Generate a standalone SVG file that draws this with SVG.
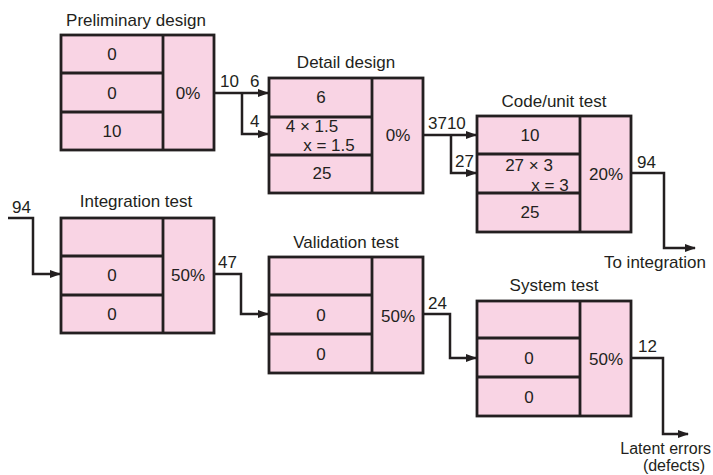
<svg xmlns="http://www.w3.org/2000/svg" width="713" height="475" viewBox="0 0 713 475">
<style>
text{font-family:"Liberation Sans",Arial,sans-serif;font-size:17px;fill:#231f20}
.m{text-anchor:middle}
.e{text-anchor:end}
.s{font-size:16px}
.box{fill:#f9d4e4;stroke:#231f20;stroke-width:2.8}
.ln{fill:none;stroke:#231f20;stroke-width:2.8}
.c{fill:none;stroke:#231f20;stroke-width:2.5;stroke-linejoin:miter}
</style>
<defs>
<marker id="ah" markerUnits="userSpaceOnUse" markerWidth="11" markerHeight="8" refX="10" refY="4" orient="auto">
<path d="M0,0 L11,4 L0,8 z" fill="#231f20"/>
</marker>
</defs>
<rect width="713" height="475" fill="#ffffff"/>

<g id="preliminary-design">
<text class="m" x="136" y="26">Preliminary design</text>
<rect class="box" x="61" y="35" width="153" height="115"/>
<path class="ln" d="M163 35V150M61 73H163M61 112H163"/>
<text class="m" x="112" y="60">0</text>
<text class="m" x="112" y="99">0</text>
<text class="m" x="112" y="137">10</text>
<text class="m" x="188" y="99">0%</text>
</g>

<g id="detail-design">
<text class="m" x="346" y="68">Detail design</text>
<rect class="box" x="269" y="78" width="154" height="115"/>
<path class="ln" d="M372 78V193M269 117H372M269 155H372"/>
<text class="m" x="321" y="103">6</text>
<text class="m" x="312" y="132">4 × 1.5</text>
<text class="m" x="329" y="151">x = 1.5</text>
<text class="m" x="322" y="179">25</text>
<text class="m" x="398" y="141">0%</text>
</g>

<g id="code-unit-test">
<text class="m" x="554" y="107">Code/unit test</text>
<rect class="box" x="477" y="116" width="154" height="116"/>
<path class="ln" d="M580 116V232M477 154H580M477 193H580"/>
<text class="m" x="530" y="141">10</text>
<text class="m" x="529" y="171">27 × 3</text>
<text class="m" x="550" y="191">x = 3</text>
<text class="m" x="530" y="218">25</text>
<text class="m" x="606" y="180">20%</text>
</g>

<g id="integration-test">
<text class="m" x="136" y="207">Integration test</text>
<rect class="box" x="61" y="218" width="153" height="115"/>
<path class="ln" d="M163 218V333M61 256H163M61 295H163"/>
<text class="m" x="112" y="281">0</text>
<text class="m" x="112" y="320">0</text>
<text class="m" x="188" y="281">50%</text>
</g>

<g id="validation-test">
<text class="m" x="346" y="248">Validation test</text>
<rect class="box" x="269" y="257" width="154" height="116"/>
<path class="ln" d="M372 257V373M269 295H372M269 334H372"/>
<text class="m" x="321" y="321">0</text>
<text class="m" x="321" y="360">0</text>
<text class="m" x="398" y="322">50%</text>
</g>

<g id="system-test">
<text class="m" x="554" y="291">System test</text>
<rect class="box" x="477" y="301" width="154" height="115"/>
<path class="ln" d="M580 301V416M477 338H580M477 377H580"/>
<text class="m" x="529" y="364">0</text>
<text class="m" x="529" y="403">0</text>
<text class="m" x="606" y="365">50%</text>
</g>

<g id="connectors">
<path class="c" d="M214 93H268" marker-end="url(#ah)"/>
<path class="c" d="M242 93V134H268" marker-end="url(#ah)"/>
<path class="c" d="M423 135H476" marker-end="url(#ah)"/>
<path class="c" d="M451 135V173H476" marker-end="url(#ah)"/>
<path class="c" d="M631 173H664V248H695" marker-end="url(#ah)"/>
<path class="c" d="M8 218H33V274H60" marker-end="url(#ah)"/>
<path class="c" d="M214 274H241V314H268" marker-end="url(#ah)"/>
<path class="c" d="M423 314H450V358H476" marker-end="url(#ah)"/>
<path class="c" d="M631 358H663V434H688" marker-end="url(#ah)"/>
<text x="220" y="87">10</text>
<text x="250" y="87">6</text>
<text x="250" y="127">4</text>
<text x="428" y="129">3710</text>
<text x="455" y="167">27</text>
<text x="637" y="168">94</text>
<text class="e" x="706" y="268">To integration</text>
<text x="12" y="213">94</text>
<text x="218" y="268">47</text>
<text x="428" y="309">24</text>
<text x="638" y="352">12</text>
<text class="e s" x="711" y="454">Latent errors</text>
<text class="m s" x="674" y="471">(defects)</text>
</g>
</svg>
